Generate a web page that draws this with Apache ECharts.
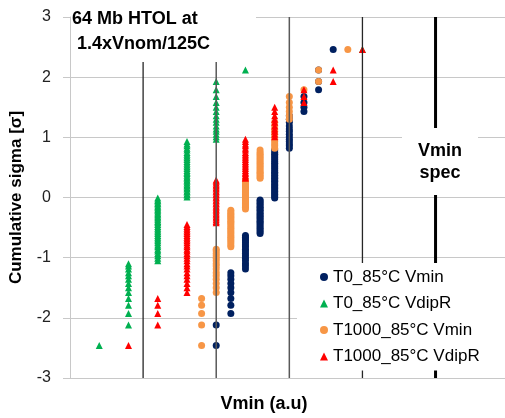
<!DOCTYPE html>
<html>
<head>
<meta charset="utf-8">
<script src="https://cdn.jsdelivr.net/npm/echarts@6.0.0/dist/echarts.min.js"></script>
<style>
html, body { margin: 0; padding: 0; background: #fff; }
#chart { width: 505px; height: 418px; }
</style>
</head>
<body>
<div id="chart"></div>
<script>
// cumulative sigma of each rank (100 parts per lot)
var sigma = [
	-2.46, -2.12, -1.93, -1.79, -1.68, -1.58, -1.50, -1.43, -1.36, -1.30,
	-1.25, -1.19, -1.14, -1.10, -1.05, -1.01, -0.97, -0.93, -0.89, -0.86,
	-0.82, -0.79, -0.75, -0.72, -0.69, -0.66, -0.63, -0.60, -0.57, -0.54,
	-0.51, -0.48, -0.45, -0.42, -0.40, -0.37, -0.34, -0.32, -0.29, -0.27,
	-0.24, -0.21, -0.19, -0.16, -0.14, -0.11, -0.09, -0.06, -0.04, -0.01,
	0.01, 0.04, 0.06, 0.09, 0.11, 0.14, 0.16, 0.19, 0.21, 0.24,
	0.27, 0.29, 0.32, 0.34, 0.37, 0.40, 0.42, 0.45, 0.48, 0.51,
	0.54, 0.57, 0.60, 0.63, 0.66, 0.69, 0.72, 0.75, 0.79, 0.82,
	0.86, 0.89, 0.93, 0.97, 1.01, 1.05, 1.10, 1.14, 1.19, 1.25,
	1.30, 1.36, 1.43, 1.50, 1.58, 1.68, 1.79, 1.93, 2.12, 2.46
];

// Vmin (a.u) of each rank, per lot
var t0VminX = [
	2.0, 2.0, 2.2, 2.2, 2.2, 2.2, 2.2, 2.2, 2.2, 2.2,
	2.2, 2.4, 2.4, 2.4, 2.4, 2.4, 2.4, 2.4, 2.4, 2.4,
	2.4, 2.4, 2.4, 2.4, 2.4, 2.4, 2.4, 2.6, 2.6, 2.6,
	2.6, 2.6, 2.6, 2.6, 2.6, 2.6, 2.6, 2.6, 2.6, 2.6,
	2.6, 2.6, 2.6, 2.6, 2.6, 2.6, 2.6, 2.6, 2.6, 2.8,
	2.8, 2.8, 2.8, 2.8, 2.8, 2.8, 2.8, 2.8, 2.8, 2.8,
	2.8, 2.8, 2.8, 2.8, 2.8, 2.8, 2.8, 2.8, 2.8, 2.8,
	2.8, 2.8, 2.8, 2.8, 2.8, 2.8, 2.8, 2.8, 2.8, 3.0,
	3.0, 3.0, 3.0, 3.0, 3.0, 3.0, 3.0, 3.0, 3.0, 3.0,
	3.0, 3.0, 3.2, 3.2, 3.2, 3.2, 3.4, 3.4, 3.4, 3.6
];
var t0VdipRX = [
	0.4, 0.8, 0.8, 0.8, 0.8, 0.8, 0.8, 0.8, 0.8, 0.8,
	0.8, 0.8, 0.8, 0.8, 1.2, 1.2, 1.2, 1.2, 1.2, 1.2,
	1.2, 1.2, 1.2, 1.2, 1.2, 1.2, 1.2, 1.2, 1.2, 1.2,
	1.2, 1.2, 1.2, 1.2, 1.2, 1.2, 1.2, 1.2, 1.2, 1.2,
	1.2, 1.2, 1.2, 1.2, 1.2, 1.2, 1.2, 1.2, 1.2, 1.2,
	1.6, 1.6, 1.6, 1.6, 1.6, 1.6, 1.6, 1.6, 1.6, 1.6,
	1.6, 1.6, 1.6, 1.6, 1.6, 1.6, 1.6, 1.6, 1.6, 1.6,
	1.6, 1.6, 1.6, 1.6, 1.6, 1.6, 1.6, 1.6, 1.6, 1.6,
	1.6, 1.6, 1.6, 2.0, 2.0, 2.0, 2.0, 2.0, 2.0, 2.0,
	2.0, 2.0, 2.0, 2.0, 2.0, 2.0, 2.0, 2.0, 2.4, 4.0
];
var t1000VminX = [
	1.8, 1.8, 1.8, 1.8, 1.8, 2.0, 2.0, 2.0, 2.0, 2.0,
	2.0, 2.0, 2.0, 2.0, 2.0, 2.0, 2.0, 2.0, 2.0, 2.0,
	2.2, 2.2, 2.2, 2.2, 2.2, 2.2, 2.2, 2.2, 2.2, 2.2,
	2.2, 2.2, 2.2, 2.2, 2.2, 2.2, 2.2, 2.2, 2.2, 2.2,
	2.2, 2.2, 2.4, 2.4, 2.4, 2.4, 2.4, 2.4, 2.4, 2.4,
	2.4, 2.4, 2.4, 2.4, 2.4, 2.4, 2.4, 2.4, 2.4, 2.4,
	2.4, 2.4, 2.6, 2.6, 2.6, 2.6, 2.6, 2.6, 2.6, 2.6,
	2.6, 2.6, 2.6, 2.6, 2.6, 2.6, 2.6, 2.6, 2.6, 2.8,
	2.8, 2.8, 2.8, 2.8, 2.8, 2.8, 2.8, 2.8, 2.8, 2.8,
	3.0, 3.0, 3.0, 3.0, 3.0, 3.0, 3.2, 3.4, 3.4, 3.8
];
var t1000VdipRX = [
	0.8, 1.2, 1.2, 1.2, 1.2, 1.6, 1.6, 1.6, 1.6, 1.6,
	1.6, 1.6, 1.6, 1.6, 1.6, 1.6, 1.6, 1.6, 1.6, 1.6,
	1.6, 1.6, 1.6, 1.6, 1.6, 1.6, 1.6, 1.6, 1.6, 1.6,
	1.6, 1.6, 1.6, 2.0, 2.0, 2.0, 2.0, 2.0, 2.0, 2.0,
	2.0, 2.0, 2.0, 2.0, 2.0, 2.0, 2.0, 2.0, 2.0, 2.0,
	2.0, 2.0, 2.0, 2.0, 2.0, 2.0, 2.0, 2.0, 2.0, 2.0,
	2.0, 2.0, 2.4, 2.4, 2.4, 2.4, 2.4, 2.4, 2.4, 2.4,
	2.4, 2.4, 2.4, 2.4, 2.4, 2.4, 2.4, 2.4, 2.4, 2.4,
	2.4, 2.4, 2.4, 2.4, 2.8, 2.8, 2.8, 2.8, 2.8, 2.8,
	2.8, 2.8, 2.8, 2.8, 3.2, 3.2, 3.2, 3.6, 3.6, 4.0
];

var seriesNames = ['T0_85°C Vmin', 'T0_85°C VdipR', 'T1000_85°C Vmin', 'T1000_85°C VdipR'];
var seriesColors = ['#002060', '#00B050', '#F79646', '#FF0000'];
var seriesSymbols = ['circle', 'triangle', 'circle', 'triangle'];
var seriesX = [t0VminX, t0VdipRX, t1000VminX, t1000VdipRX];

// vertical reference lines (the last one is the Vmin spec)
var refLineX = [1, 2, 3, 4, 5];
var refLineColor = ['#262626', '#595959', '#595959', '#262626', '#000000'];
var refLineWidth = [1.3, 1.5, 1.5, 1.3, 3];

var chart = echarts.init(document.getElementById('chart'));

var series = [];
refLineX.forEach(function (x, i) {
	series.push({
		type: 'line',
		silent: true,
		symbol: 'none',
		lineStyle: { color: refLineColor[i], width: refLineWidth[i] },
		data: [[x, -3], [x, 3]]
	});
});
seriesNames.forEach(function (name, k) {
	series.push({
		name: name,
		type: 'scatter',
		symbol: seriesSymbols[k],
		symbolSize: 7,
		itemStyle: { color: seriesColors[k], opacity: 1 },
		data: seriesX[k].map(function (x, i) { return [x, sigma[i]]; })
	});
});

var option = {
	animation: false,
	textStyle: { fontFamily: 'Liberation Sans, Arial, sans-serif' },
	grid: { left: 70, right: 0, top: 17, bottom: 38 },
	xAxis: {
		type: 'value',
		min: 0,
		max: 5.95,
		name: 'Vmin (a.u)',
		nameLocation: 'middle',
		nameGap: 17,
		nameTextStyle: { fontSize: 18, fontWeight: 'bold', color: '#000', padding: [0, 47, 0, 0] },
		axisLine: { show: true, lineStyle: { color: '#c8c8c8', width: 1 } },
		axisTick: { show: false },
		axisLabel: { show: false },
		splitLine: { show: false }
	},
	yAxis: {
		type: 'value',
		min: -3,
		max: 3,
		interval: 1,
		name: 'Cumulative sigma [σ]',
		nameLocation: 'middle',
		nameRotate: 90,
		nameGap: 45,
		nameTextStyle: { fontSize: 17, fontWeight: 'bold', color: '#000' },
		axisLine: { show: true, lineStyle: { color: '#c8c8c8', width: 1 } },
		axisTick: { show: true, length: 7, lineStyle: { color: '#c8c8c8' } },
		axisLabel: { fontSize: 16, color: '#222', margin: 19 },
		splitLine: { show: true, lineStyle: { color: '#c8c8c8', width: 1 } }
	},
	legend: {
		data: seriesNames,
		orient: 'vertical',
		left: 297,
		top: 263,
		padding: [5, 30, 5, 23],
		backgroundColor: '#fff',
		itemWidth: 8,
		itemHeight: 8,
		itemGap: 8.5,
		textStyle: { fontSize: 17, color: '#000', lineHeight: 18 }
	},
	graphic: [
		{ type: 'rect', z: 100, shape: { x: 71, y: 0, width: 185, height: 62 }, style: { fill: '#fff' } },
		{ type: 'text', z: 101, x: 72, y: 19, style: { text: '64 Mb HTOL at', font: 'bold 18px Liberation Sans, Arial, sans-serif', fill: '#000', verticalAlign: 'middle' } },
		{ type: 'text', z: 101, x: 77, y: 44, style: { text: '1.4xVnom/125C', font: 'bold 18px Liberation Sans, Arial, sans-serif', fill: '#000', verticalAlign: 'middle' } },
		{ type: 'rect', z: 100, shape: { x: 402, y: 128, width: 76, height: 67 }, style: { fill: '#fff' } },
		{ type: 'text', z: 101, x: 440, y: 151, style: { text: 'Vmin', font: 'bold 18px Liberation Sans, Arial, sans-serif', fill: '#000', align: 'center', verticalAlign: 'middle' } },
		{ type: 'text', z: 101, x: 440, y: 173, style: { text: 'spec', font: 'bold 18px Liberation Sans, Arial, sans-serif', fill: '#000', align: 'center', verticalAlign: 'middle' } }
	],
	series: series
};

chart.setOption(option);
</script>
</body>
</html>
